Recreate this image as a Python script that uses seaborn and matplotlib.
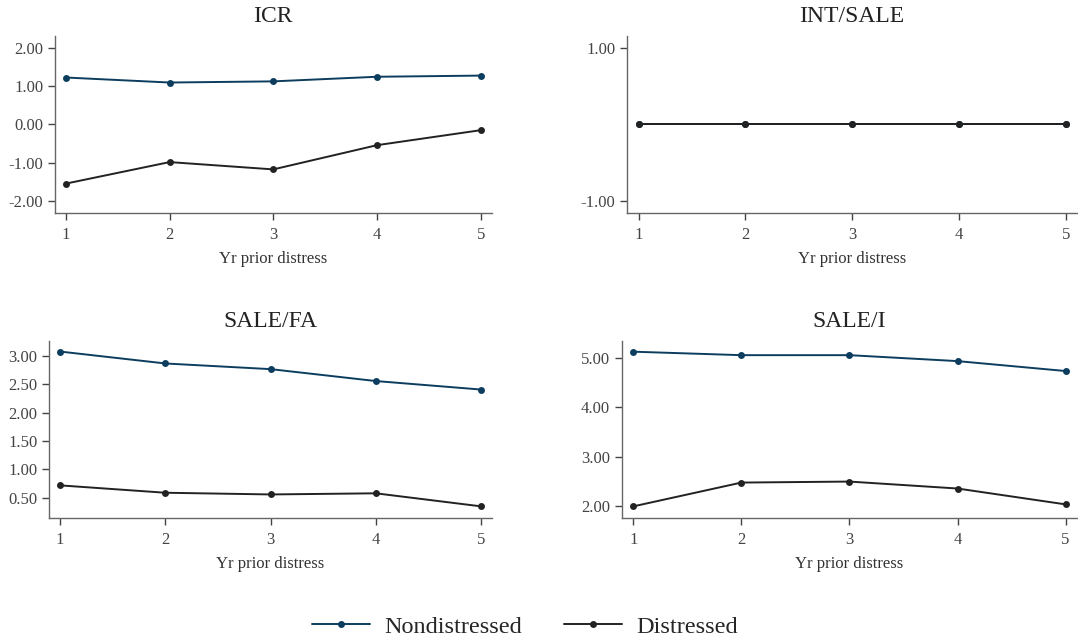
import numpy as np
import pandas as pd
import seaborn as sns
import matplotlib.pyplot as plt

years = [1, 2, 3, 4, 5]
groups = ['Nondistressed', 'Distressed']

icr_non = [1.22, 1.09, 1.12, 1.24, 1.27]
icr_dis = [-1.54, -0.98, -1.17, -0.54, -0.15]
int_sale_non = [0.0, 0.0, 0.0, 0.0, 0.0]
int_sale_dis = [0.0, 0.0, 0.0, 0.0, 0.0]
sale_fa_non = [3.08, 2.87, 2.77, 2.56, 2.41]
sale_fa_dis = [0.72, 0.59, 0.56, 0.58, 0.35]
sale_i_non = [5.12, 5.05, 5.05, 4.93, 4.73]
sale_i_dis = [2.00, 2.48, 2.50, 2.36, 2.04]

panels = {
    'ICR': (icr_non, icr_dis),
    'INT/SALE': (int_sale_non, int_sale_dis),
    'SALE/FA': (sale_fa_non, sale_fa_dis),
    'SALE/I': (sale_i_non, sale_i_dis),
}
yticks = {
    'ICR': [-2, -1, 0, 1, 2],
    'INT/SALE': [-1, 1],
    'SALE/FA': [0.5, 1.0, 1.5, 2.0, 2.5, 3.0],
    'SALE/I': [2, 3, 4, 5],
}
ylims = {
    'ICR': (-2.3, 2.3),
    'INT/SALE': (-1.15, 1.15),
    'SALE/FA': (0.14, 3.27),
    'SALE/I': (1.76, 5.34),
}
# left, bottom, width, height in figure fraction
positions = {
    'ICR': [0.051, 0.669, 0.405, 0.275],
    'INT/SALE': [0.582, 0.669, 0.417, 0.275],
    'SALE/FA': [0.0455, 0.194, 0.411, 0.276],
    'SALE/I': [0.577, 0.194, 0.422, 0.276],
}
palette = {'Nondistressed': '#0c3d5e', 'Distressed': '#222222'}

sns.set_theme(style='ticks')
plt.rcParams['font.family'] = ['Liberation Serif', 'DejaVu Serif']

fig = plt.figure(figsize=(10.78, 6.43), dpi=100)

for name, (non, dis) in panels.items():
    df = pd.DataFrame({
        'year': years * 2,
        'value': non + dis,
        'group': [groups[0]] * len(years) + [groups[1]] * len(years),
    })
    ax = fig.add_axes(positions[name])
    sns.lineplot(data=df, x='year', y='value', hue='group', hue_order=groups,
                 palette=palette, marker='o', markersize=5, markeredgewidth=0,
                 linewidth=1.4, ax=ax, legend=(name == 'ICR'))
    ax.set_title(name, fontsize=17, pad=10, color='#222222')
    ax.set_xlim(0.895, 5.105)
    ax.set_ylim(*ylims[name])
    ax.set_xticks(years)
    ax.set_yticks(yticks[name])
    ax.set_yticklabels([f'{v:.2f}' for v in yticks[name]])
    ax.set_xlabel('Yr prior distress', fontsize=12, color='#333333', labelpad=6)
    ax.set_ylabel('')
    ax.tick_params(labelsize=12, colors='#444444', length=5, width=1)
    ax.tick_params(axis='x', pad=5)
    sns.despine(ax=ax)
    for sp in ['left', 'bottom']:
        ax.spines[sp].set_color('#666666')
        ax.spines[sp].set_linewidth(1)
    if name == 'ICR':
        handles, labels = ax.get_legend_handles_labels()
        ax.get_legend().remove()

fig.legend(handles, labels, loc='center', bbox_to_anchor=(0.487, 0.025),
           ncol=2, frameon=False, fontsize=17.5, handlelength=2.4,
           columnspacing=1.7, handletextpad=0.6)

fig.savefig('out.png', dpi=100)
